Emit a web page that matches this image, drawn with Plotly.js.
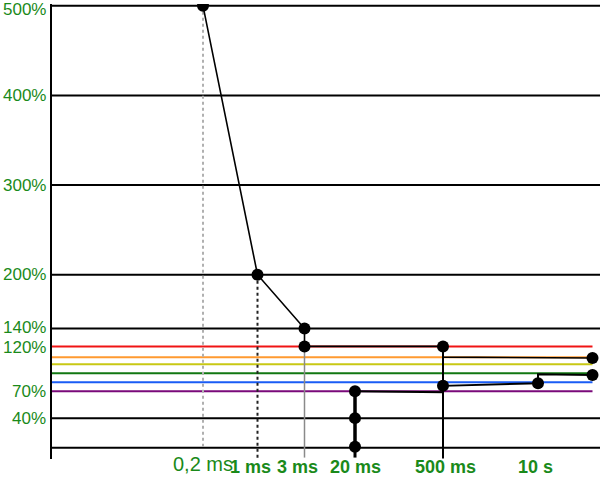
<!DOCTYPE html>
<html>
<head>
<meta charset="utf-8">
<script src="https://cdn.plot.ly/plotly-3.0.1.min.js"></script>
<style>html,body{margin:0;padding:0;background:#fff;}#chart{width:600px;height:477px;}</style>
</head>
<body>
<div id="chart"></div>
<script>
// ---- data ----
// time categories and their positions on the (non-uniform) schematic time axis
const timeLabels = ['0,2 ms', '1 ms', '3 ms', '20 ms', '500 ms', '10 s'];
const timeSlot   = [1.51, 2.055, 2.525, 3.03, 3.91, 4.86];
const endSlot    = 5.405;           // right end of the level lines
// y-axis labels (percent)
const yTickVals  = [500, 400, 300, 200, 140, 120, 70, 40];
const yTickText  = ['500%', '400%', '300%', '200%', '140%', '120%', '70%', '40%'];
// black horizontal reference levels
const gridLevels = [500, 400, 300, 200, 140, 40, 7];
// coloured reference levels
const colorLevels = [120, 108, 100, 90, 80, 70];
// main curve: 0,2 ms -> 1 ms -> 3 ms -> 500 ms -> end
const curveAx = ['0,2 ms', '1 ms', '3 ms', '3 ms', '500 ms', '500 ms', 'end'];
const curveAy = [500, 200, 140, 120, 120, 108, 107];
// second curve: 20 ms -> 500 ms -> 10 s -> end
const curveBx = ['20 ms', '500 ms', '500 ms', '10 s', '10 s', 'end'];
const curveBy = [70, 69, 76, 79, 89, 88];
// 20 ms vertical with its points
const curveCx = ['20 ms', '20 ms', '20 ms'];
const curveCy = [70, 40, 8];
// points shown as dots
const dotX = ['0,2 ms', '1 ms', '3 ms', '3 ms', '500 ms', 'end', '20 ms', '20 ms', '20 ms', '500 ms', '10 s', 'end'];
const dotY = [500, 200, 140, 120, 120, 107, 70, 40, 8, 76, 79, 88];
// vertical drop lines: [time, top value, bottom value]
const dropTime = ['0,2 ms', '1 ms', '3 ms', '20 ms', '500 ms'];
const dropTop  = [500, 200, 120, 70, 120];
const dropBot  = [7, -5, -4, -4, -5];

// ---- styling ----
const GREEN = '#1a8a1a';
const FONT = 'Liberation Sans, Arial, sans-serif';
const levelColors = ['#f01414', '#ff9a30', '#c8c814', '#117711', '#1a5cf5', '#7a0a7a'];
const dropStyle = [
  {color: '#b0b0b0', width: 2, dash: 'dot'},
  {color: '#222222', width: 2, dash: 'dot'},
  {color: '#8a8a8a', width: 1.5, dash: 'solid'},
  {color: '#000000', width: 3, dash: 'solid'},
  {color: '#000000', width: 2, dash: 'solid'}
];
const labelStyle = [
  {size: 20, bold: false, shift: 0, yshift: -5},
  {size: 18, bold: true, shift: -7, yshift: -8},
  {size: 18, bold: true, shift: -7, yshift: -8},
  {size: 18, bold: true, shift: 0, yshift: -8},
  {size: 18, bold: true, shift: 2, yshift: -8},
  {size: 18, bold: true, shift: -3, yshift: -8}
];
const yLabelShift = {500: -4, 140: 1, 120: -1};

const slotOf = t => t === 'end' ? endSlot : timeSlot[timeLabels.indexOf(t)];

const traces = [];
colorLevels.forEach((v, i) => {
  traces.push({x: [0, endSlot], y: [v, v], mode: 'lines', line: {color: levelColors[i], width: 2}, hoverinfo: 'skip'});
});
dropTime.forEach((t, i) => {
  traces.push({x: [slotOf(t), slotOf(t)], y: [dropTop[i], dropBot[i]], mode: 'lines', line: dropStyle[i], hoverinfo: 'skip'});
});
traces.push({x: curveAx.map(slotOf), y: curveAy, mode: 'lines', line: {color: '#000', width: 1.6}});
traces.push({x: curveBx.map(slotOf), y: curveBy, mode: 'lines', line: {color: '#000', width: 2}});
traces.push({x: curveCx.map(slotOf), y: curveCy, mode: 'lines', line: {color: '#000', width: 3}});
traces.push({x: dotX.map(slotOf), y: dotY, mode: 'markers', marker: {color: '#000', size: 12}});

const shapes = gridLevels.map(v => ({
  type: 'line', xref: 'paper', x0: 0, x1: 1, yref: 'y', y0: v, y1: v,
  line: {color: '#000', width: 2}, layer: 'below'
}));

const annotations = timeLabels.map((t, i) => ({
  x: timeSlot[i], xref: 'x', y: 0, yref: 'paper', yanchor: 'middle', xanchor: 'center',
  xshift: labelStyle[i].shift, yshift: labelStyle[i].yshift,
  text: labelStyle[i].bold ? '<b>' + t + '</b>' : t, showarrow: false,
  font: {family: FONT, size: labelStyle[i].size, color: GREEN}
})).concat(yTickVals.map((v, i) => ({
  x: 0, xref: 'paper', y: v, yref: 'y', xanchor: 'right', yanchor: 'middle',
  xshift: -5, yshift: yLabelShift[v] || 0, borderpad: 0,
  text: yTickText[i], showarrow: false,
  font: {family: FONT, size: 17, color: GREEN}
})));

const layout = {
  width: 600, height: 477,
  margin: {l: 52, r: 0, t: 4, b: 18},
  paper_bgcolor: '#fff', plot_bgcolor: '#fff',
  showlegend: false, hovermode: false,
  xaxis: {range: [0, 5.48], showgrid: false, zeroline: false, showline: false, showticklabels: false, ticks: ''},
  yaxis: {
    range: [-5.6, 502], showticklabels: false,
    showgrid: false, zeroline: false, showline: true, linecolor: '#000', linewidth: 2.5,
    ticks: ''
  },
  shapes: shapes,
  annotations: annotations
};

Plotly.newPlot('chart', traces, layout, {staticPlot: true, displayModeBar: false});
</script>
</body>
</html>
